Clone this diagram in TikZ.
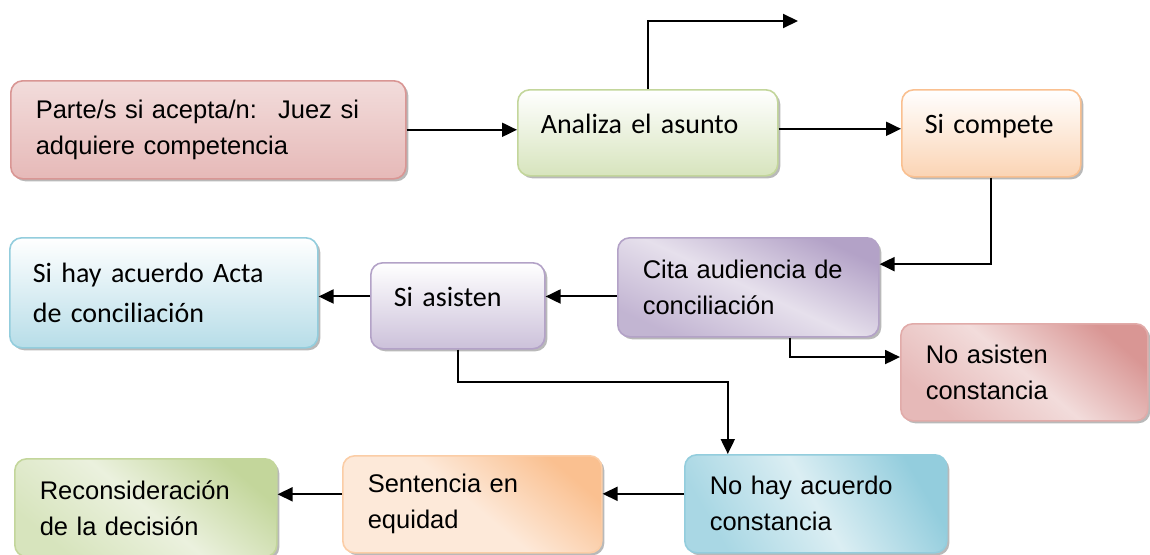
\documentclass[tikz,border=0pt]{standalone}
\usepackage{fontspec}
\setmainfont{Liberation Sans}
\newfontfamily\calibri{Carlito}
\usepackage{tikz}
\usetikzlibrary {arrows.meta,
                 shadows}
\definecolor{rojoB}{HTML}{D99694}
\definecolor{rojoC}{HTML}{F2DCDB}
\definecolor{rojoM}{HTML}{E6B9B8}
\definecolor{verdeB}{HTML}{C3D69B}
\definecolor{verdeM}{HTML}{D7E4BD}
\definecolor{verdeC}{HTML}{EBF1DE}
\definecolor{naranjaB}{HTML}{FAC090}
\definecolor{naranjaM}{HTML}{FBD4B4}
\definecolor{naranjaC}{HTML}{FDE9D9}
\definecolor{moradoB}{HTML}{B3A2C7}
\definecolor{moradoM}{HTML}{CCC1DA}
\definecolor{moradoC}{HTML}{E6E0EC}
\definecolor{azulB}{HTML}{93CDDD}
\definecolor{azulM}{HTML}{B7DDE8}
\definecolor{azulC}{HTML}{DBEEF3}
\tikzset{
        base/.style={draw, rounded corners=12pt, line width=1.6pt,
                     anchor=north west, align=left, inner ysep=0pt,
                     drop shadow={shadow xshift=2.5pt, shadow yshift=-2.5pt,
                                  fill=black!55}},
        proc/.style={base, inner xsep=25pt,
                     font=\fontsize{25.5}{36}\selectfont},
        cal/.style={base, inner xsep=23pt,
                    font=\calibri\fontsize{28}{40}\selectfont},
        uno/.style={cal, text depth=18pt},
        myarrow/.style={-{Triangle[length=15pt,width=14pt]}, line width=2pt},
 }

\begin{document}
\begin{tikzpicture}[x=1pt, y=-1pt]
    \useasboundingbox (0,0) rectangle (1150,554);

    \node[proc, draw=rojoB, top color=rojoC, bottom color=rojoM,
          text width=345pt, minimum height=98pt] (a) at (10,80)
          {Parte/s si acepta/n: \ Juez si\\adquiere competencia};
    \node[uno, draw=verdeB, top color=white, bottom color=verdeM,
          text width=214pt, minimum height=86pt] (b) at (517,89)
          {Analiza el asunto};
    \node[uno, draw=naranjaB, top color=white, bottom color=naranjaM,
          text width=133pt, minimum height=87pt] (c) at (901,89)
          {Si compete};
    \node[proc, draw=moradoB, top color=moradoB, bottom color=moradoB!80,
          middle color=moradoC, shading angle=-25,
          text width=211pt, minimum height=99pt] (d) at (617,237)
          {Cita audiencia de\\conciliación};
    \node[uno, draw=moradoB, top color=white, bottom color=moradoM,
          text width=128pt, minimum height=86pt] (e) at (370,262)
          {Si asisten};
    \node[cal, draw=azulB, top color=white, bottom color=azulM,
          text width=262pt, minimum height=110pt] (f) at (9,237)
          {Si hay acuerdo Acta\\de conciliación};
    \node[proc, draw=rojoB!80, top color=rojoB, bottom color=rojoM,
          middle color=rojoC, shading angle=-40,
          text width=197pt, minimum height=97pt] (g) at (900,323)
          {No asisten\\constancia};
    \node[proc, draw=azulB, top color=azulB, bottom color=azulB!80,
          middle color=azulC, shading angle=-60,
          text width=212pt, minimum height=98pt] (h) at (684,454)
          {No hay acuerdo\\constancia};
    \node[proc, draw=naranjaB!80, top color=naranjaB, bottom color=naranjaC,
          middle color=naranjaC, shading angle=-40,
          text width=209pt, minimum height=97pt] (i) at (342,455)
          {Sentencia en\\equidad};
    \node[proc, draw=verdeB, top color=verdeB, bottom color=verdeM,
          middle color=verdeC, shading angle=-40,
          text width=212pt, minimum height=98pt] (j) at (14,458)
          {Reconsideración\\de la decisión};

    \coordinate (salida) at (798,21);

    \draw[myarrow] (a.east) -- (a.east -| b.west);
    \draw[myarrow] ([yshift=4pt]b.east) -- ([yshift=4pt]b.east -| c.west);
    \draw[myarrow] (b.north) |- (salida);
    \draw[myarrow] (c.south) |- (d.10);
    \draw[myarrow] (d.184) -- (d.184 -| e.east);
    \draw[myarrow] (e.west |- d.184) -- (f.east |- d.184);
    \draw[myarrow] ([xshift=42pt]d.south) |- (g.173);
    \draw[myarrow] (e.south) -- ++(0,32) -| ([xshift=-88pt]h.north);
    \draw[myarrow] ([yshift=10pt]h.west) -- ([yshift=10pt]h.west -| i.east);
    \draw[myarrow] ([yshift=10pt]i.west) -- ([yshift=10pt]i.west -| j.east);
\end{tikzpicture}
\end{document}
